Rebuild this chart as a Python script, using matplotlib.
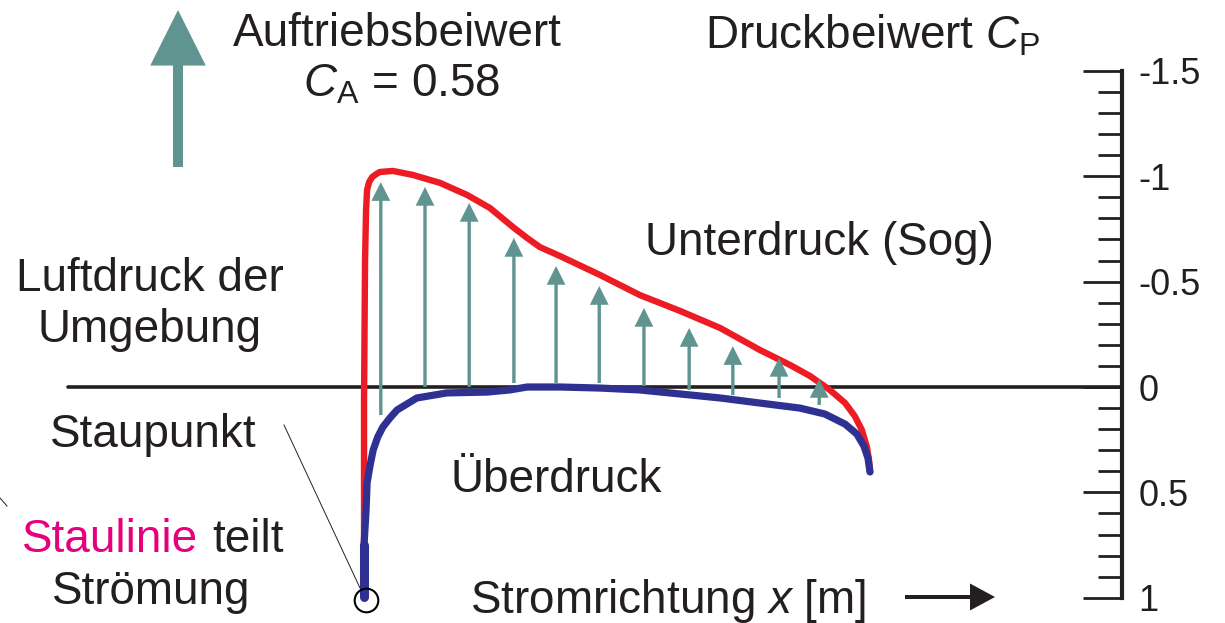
import matplotlib.pyplot as plt
from matplotlib.lines import Line2D
from matplotlib.ticker import FixedLocator, FixedFormatter

plt.rcParams['font.family'] = ['Liberation Sans', 'DejaVu Sans']
plt.rcParams['mathtext.fontset'] = 'custom'
plt.rcParams['mathtext.rm'] = 'Liberation Sans'
plt.rcParams['mathtext.it'] = 'Liberation Sans:italic'

# Druckverteilung Oberseite (rot): x/c, Cp
x_oben = [0.004, 0.004, 0.004, 0.006, 0.008, 0.010, 0.014, 0.020, 0.028, 0.035,
          0.061, 0.100, 0.154, 0.207, 0.252, 0.297, 0.325, 0.350, 0.390, 0.469,
          0.547, 0.626, 0.705, 0.783, 0.843, 0.882, 0.921, 0.951, 0.970, 0.984,
          0.994, 0.998, 1.0]
cp_oben = [0.996, 0.750, 0.062, -0.602, -0.840, -0.935, -0.972, -0.996, -1.010, -1.020,
           -1.025, -1.006, -0.968, -0.911, -0.849, -0.759, -0.707, -0.664, -0.621, -0.531,
           -0.436, -0.361, -0.280, -0.176, -0.104, -0.052, 0.014, 0.076, 0.138, 0.204,
           0.285, 0.346, 0.403]

# Druckverteilung Unterseite (blau)
x_unten = [0.004, 0.004, 0.008, 0.010, 0.016, 0.022, 0.031, 0.041, 0.055, 0.069,
           0.108, 0.167, 0.246, 0.291, 0.325, 0.390, 0.469, 0.547, 0.626, 0.705,
           0.783, 0.862, 0.911, 0.951, 0.974, 0.988, 0.996, 1.0]
cp_unten = [0.996, 0.750, 0.583, 0.455, 0.370, 0.299, 0.237, 0.190, 0.147, 0.109,
            0.052, 0.028, 0.024, 0.014, 0.0, 0.0, 0.005, 0.014, 0.033, 0.052,
            0.076, 0.100, 0.128, 0.176, 0.223, 0.280, 0.337, 0.403]

# Auftriebspfeile
x_pfeile = [0.037, 0.124, 0.211, 0.299, 0.382, 0.467, 0.555, 0.644, 0.730, 0.821, 0.900]
cp_spitze = [-0.972, -0.949, -0.873, -0.707, -0.574, -0.479, -0.375, -0.280, -0.194, -0.138, -0.038]
cp_fuss = [0.133, 0.0, 0.0, -0.019, -0.019, -0.019, -0.005, 0.014, 0.038, 0.052, 0.085]

# Cp-Skala
cp_ticks = [-1.5, -1, -0.5, 0, 0.5, 1]
cp_labels = ['-1.5', '-1', '-0.5', '0', '0.5', '1']
cp_minor = [round(i * 0.1, 1) for i in range(-14, 10) if i % 5 != 0]

W, H = 1225, 623
rot = '#ed1c24'
blau = '#2e3192'
petrol = '#5f9490'
dunkel = '#231f20'
magenta = '#e6007e'

fig = plt.figure(figsize=(W / 100, H / 100), dpi=100)
ax = fig.add_axes([0, 0, 1, 1])
ax.set_xlim(-0.7126, 1.6988)
ax.set_ylim(1.1195, -1.8359)

for s in ['top', 'bottom', 'left']:
    ax.spines[s].set_visible(False)
ax.spines['right'].set_position(('data', 1.496))
ax.spines['right'].set_bounds(-1.5, 1)
ax.spines['right'].set_linewidth(3)
ax.spines['right'].set_color(dunkel)
ax.set_xticks([])
ax.yaxis.set_ticks_position('right')
ax.yaxis.set_major_locator(FixedLocator(cp_ticks))
ax.yaxis.set_major_formatter(FixedFormatter(cp_labels))
ax.yaxis.set_minor_locator(FixedLocator(cp_minor))
ax.tick_params(axis='y', which='major', direction='in', length=28, width=2,
               pad=12, labelsize=26, color=dunkel, labelcolor=dunkel)
ax.tick_params(axis='y', which='minor', direction='in', length=17.5, width=2,
               color=dunkel)

# Nulllinie
ax.plot([-0.579, 1.496], [0, 0], color=dunkel, lw=2.6, solid_capstyle='round')

# Pfeile
for x, c0, c1 in zip(x_pfeile, cp_fuss, cp_spitze):
    ax.annotate('', xy=(x, c1), xytext=(x, c0),
                arrowprops=dict(arrowstyle='simple,head_length=1,head_width=1,tail_width=0.18',
                                mutation_scale=13.5, color=petrol, lw=0,
                                shrinkA=0, shrinkB=0))

ax.plot(x_oben, cp_oben, color=rot, lw=4.6, solid_capstyle='round', solid_joinstyle='round')
ax.plot(x_unten, cp_unten, color=blau, lw=5.2, solid_capstyle='round', solid_joinstyle='round')
ax.plot(x_unten[:2], cp_unten[:2], color=blau, lw=6.5, solid_capstyle='round')

# Staupunkt
ax.plot([0.008], [1.01], marker='o', markersize=17, markerfacecolor='none',
        markeredgecolor='black', markeredgewidth=1.5)

# grosser Pfeil oben links
ax.annotate('', xy=(178 / W, 1 - 10 / H), xycoords='axes fraction',
            xytext=(178 / W, 1 - 167 / H), textcoords='axes fraction',
            arrowprops=dict(arrowstyle='simple,head_length=1,head_width=1,tail_width=0.18',
                            mutation_scale=40, color=petrol, lw=0, shrinkA=0, shrinkB=0))

# Stromrichtungspfeil
ax.annotate('', xy=(995 / W, 1 - 597 / H), xycoords='axes fraction',
            xytext=(905 / W, 1 - 597 / H), textcoords='axes fraction',
            arrowprops=dict(arrowstyle='simple,head_length=1,head_width=1.08,tail_width=0.16',
                            mutation_scale=18, color=dunkel, lw=0, shrinkA=0, shrinkB=0))

fig.add_artist(Line2D([284 / W, 360 / W], [1 - 425 / H, 1 - 588 / H], lw=0.7, color=dunkel))
fig.add_artist(Line2D([0, 7 / W], [1 - 498 / H, 1 - 506 / H], lw=0.7, color=dunkel))


def txt(x, y, s, ha='left', color=dunkel):
    fig.text(x / W, 1 - y / H, s, ha=ha, va='baseline', fontsize=33, color=color)


txt(397, 46, 'Auftriebsbeiwert', ha='center')
txt(402, 97, r'$C_{\mathrm{A}}$ = 0.58', ha='center')
txt(705, 48, r'Druckbeiwert $C_{\mathrm{P}}$')
txt(645, 255, 'Unterdruck (Sog)')
txt(150, 291, 'Luftdruck der', ha='center')
txt(150, 342, 'Umgebung', ha='center')
txt(153, 447, 'Staupunkt', ha='center')
txt(450, 492, 'Überdruck')
txt(22, 552, 'Staulinie', color=magenta)
txt(212, 552, 'teilt')
txt(151, 604, 'Strömung', ha='center')
txt(470, 613, r'Stromrichtung $x$ [m]')

fig.savefig('out.png', dpi=100)
